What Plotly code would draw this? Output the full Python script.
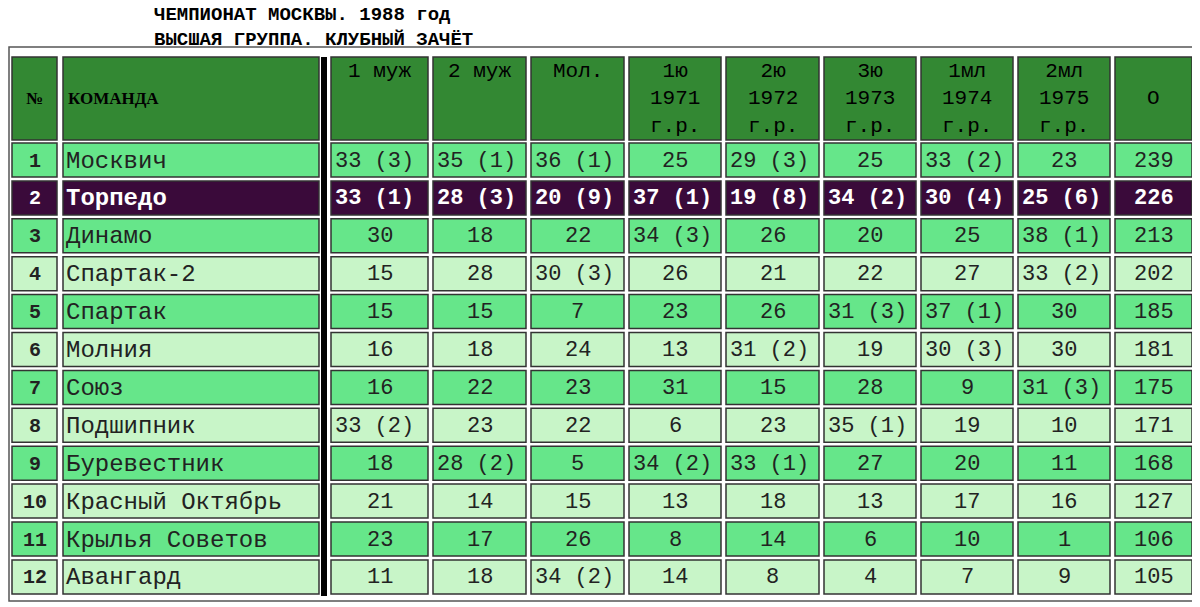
import plotly.graph_objects as go

title1 = "ЧЕМПИОНАТ МОСКВЫ. 1988 год"
title2 = "ВЫСШАЯ ГРУППА. КЛУБНЫЙ ЗАЧЁТ"
headers = ["1 муж", "2 муж", "Мол.", "1ю<br>1971<br>г.р.", "2ю<br>1972<br>г.р.", "3ю<br>1973<br>г.р.",
           "1мл<br>1974<br>г.р.", "2мл<br>1975<br>г.р.", "О"]
places = [str(i) for i in range(1, 13)]
teams = ["Москвич", "Торпедо", "Динамо", "Спартак-2", "Спартак", "Молния", "Союз", "Подшипник",
         "Буревестник", "Красный Октябрь", "Крылья Советов", "Авангард"]
values = [
    ["33 (3)", "35 (1)", "36 (1)", "25", "29 (3)", "25", "33 (2)", "23", "239"],
    ["33 (1)", "28 (3)", "20 (9)", "37 (1)", "19 (8)", "34 (2)", "30 (4)", "25 (6)", "226"],
    ["30", "18", "22", "34 (3)", "26", "20", "25", "38 (1)", "213"],
    ["15", "28", "30 (3)", "26", "21", "22", "27", "33 (2)", "202"],
    ["15", "15", "7", "23", "26", "31 (3)", "37 (1)", "30", "185"],
    ["16", "18", "24", "13", "31 (2)", "19", "30 (3)", "30", "181"],
    ["16", "22", "23", "31", "15", "28", "9", "31 (3)", "175"],
    ["33 (2)", "23", "22", "6", "23", "35 (1)", "19", "10", "171"],
    ["18", "28 (2)", "5", "34 (2)", "33 (1)", "27", "20", "11", "168"],
    ["21", "14", "15", "13", "18", "13", "17", "16", "127"],
    ["23", "17", "26", "8", "14", "6", "10", "1", "106"],
    ["11", "18", "34 (2)", "14", "8", "4", "7", "9", "105"],
]

# layout geometry (pixels)
col_x = [(12, 57), (63, 319), (331, 428), (433, 526), (531, 624), (629, 721), (726, 819),
         (824, 916), (921, 1013), (1018, 1110), (1115, 1192)]
head_y = (57, 140)
row_top0, row_pitch, row_h = 143, 37.9, 34
HEAD = "#338833"; ODD = "#66e68a"; EVEN = "#c8f5c8"; DARK = "#3a0a3a"; EDGE = "#333333"
FONT = "Courier New, Liberation Mono"

shapes, ann = [], []
def cell(x0, x1, y0, y1, color):
    shapes.append(dict(type="rect", x0=x0, x1=x1, y0=y0, y1=y1, fillcolor=color,
                       line=dict(color=EDGE, width=1.5), layer="below"))

shapes.append(dict(type="rect", x0=9, x1=1195, y0=47, y1=601, line=dict(color="#555", width=1.5)))
for i, (x0, x1) in enumerate(col_x):
    cell(x0, x1, *head_y, HEAD)
ann.append(dict(x=34.5, y=98, text="<b>№</b>", font=dict(size=17, color="black", family="Liberation Serif")))
ann.append(dict(x=66, y=98, text="<b>КОМАНДА</b>", xanchor="left",
                font=dict(size=17, color="black", family="Liberation Serif")))
for j, h in enumerate(headers):
    x0, x1 = col_x[j + 2]
    ann.append(dict(x=(x0 + x1) / 2, y=58, yanchor="top", text=h,
                    font=dict(size=21, color="black", family=FONT)))
ann[-1]["y"] = 98; ann[-1]["yanchor"] = "middle"

shapes.append(dict(type="rect", x0=321, x1=327, y0=57, y1=596, fillcolor="black", line=dict(width=0)))

for r in range(12):
    y0 = row_top0 + r * row_pitch; y1 = y0 + row_h; ym = (y0 + y1) / 2 + 1
    color = DARK if r == 1 else (ODD if r % 2 == 0 else EVEN)
    tc = "white" if r == 1 else "#222"
    for (x0, x1) in col_x:
        cell(x0, x1, y0, y1, color)
    b = (lambda s: "<b>" + s + "</b>") if r == 1 else (lambda s: s)
    ann.append(dict(x=34.5, y=ym, text="<b>" + places[r] + "</b>",
                    font=dict(size=20, color=tc, family=FONT)))
    ann.append(dict(x=64, y=ym, text=b(teams[r]), xanchor="left",
                    font=dict(size=24, color=tc, family=FONT)))
    for j, v in enumerate(values[r]):
        x0, x1 = col_x[j + 2]
        if "(" in v:
            ann.append(dict(x=x0 + 2, y=ym, text=b(v), xanchor="left",
                            font=dict(size=22, color=tc, family=FONT)))
        else:
            ann.append(dict(x=(x0 + x1) / 2, y=ym, text=b(v),
                            font=dict(size=22, color=tc, family=FONT)))

ann.append(dict(x=152, y=27, text="<b>" + title1 + "<br>" + title2 + "</b>", xanchor="left", align="left",
                font=dict(size=19, color="black", family=FONT)))
for a in ann:
    a.setdefault("showarrow", False)
    a.setdefault("yanchor", "middle")
    a.setdefault("xanchor", "center")

fig = go.Figure(go.Scatter(x=[0, 1200], y=[0, 607], mode="markers", marker=dict(opacity=0),
                           hoverinfo="skip"))
# ranges offset by the page's 8px body margin so data units equal page pixels
fig.update_layout(width=1200, height=607, margin=dict(l=0, r=0, t=0, b=0),
                  paper_bgcolor="white", plot_bgcolor="white", shapes=shapes, annotations=ann,
                  showlegend=False,
                  xaxis=dict(range=[8, 1208], visible=False, fixedrange=True),
                  yaxis=dict(range=[615, 8], visible=False, fixedrange=True))
fig.write_html("out.html")
